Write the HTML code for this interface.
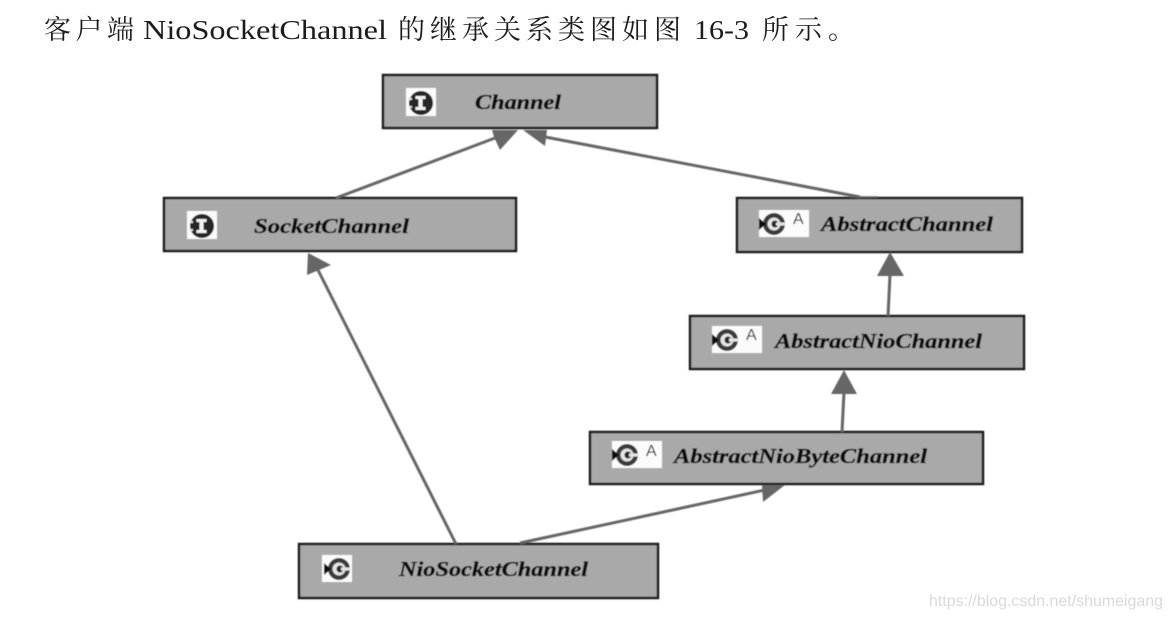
<!DOCTYPE html>
<html><head><meta charset="utf-8"><style>
html,body{margin:0;padding:0;background:#fff}
body{width:1170px;height:618px;overflow:hidden;position:relative}
svg{position:absolute;left:0;top:0}
</style></head><body>
<svg width="1170" height="618" viewBox="0 0 1170 618" xmlns="http://www.w3.org/2000/svg">
<defs>
<filter id="b" x="-5%" y="-5%" width="110%" height="110%"><feGaussianBlur stdDeviation="0.6"/></filter>
<filter id="t" x="-5%" y="-20%" width="110%" height="140%"><feGaussianBlur stdDeviation="0.35"/></filter>
<g id="cicon"><circle cx="1" cy="0" r="11" fill="#3a3a3a"/><circle cx="1" cy="0" r="6.5" fill="#e4e4e4"/><circle cx="2" cy="0" r="3.5" fill="#2a2a2a"/><rect x="3" y="-1.5" width="9.5" height="3" fill="#e4e4e4"/><path d="M-14 -6L-7 0L-14 6Z" fill="#111"/></g>
<g id="iicon"><circle cx="1" cy="0" r="12" fill="#262626"/><rect x="-4.5" y="-7" width="10" height="3" fill="#f2f2f2"/><rect x="-4.5" y="4" width="10" height="3" fill="#f2f2f2"/><rect x="-1.5" y="-7" width="4" height="14" fill="#f2f2f2"/><rect x="-11" y="-5" width="3" height="2" fill="#ddd"/><rect x="-11" y="3" width="3" height="2" fill="#ddd"/></g>
</defs>
<rect width="1170" height="618" fill="#fff"/>
<g filter="url(#t)" font-family="'Liberation Serif','Noto Serif CJK SC',serif" font-size="27" fill="#1c1c1c">
<text x="44" y="39" textLength="90" lengthAdjust="spacing">客户端</text>
<text x="143" y="39" textLength="244" lengthAdjust="spacingAndGlyphs">NioSocketChannel</text>
<text x="398" y="39" textLength="283" lengthAdjust="spacing">的继承关系类图如图</text>
<text x="694" y="39" textLength="55" lengthAdjust="spacingAndGlyphs">16-3</text>
<text x="762" y="39" textLength="93" lengthAdjust="spacing">所示。</text>
</g>
<g filter="url(#b)">
<g fill="#a9a9a9" stroke="#1f1f1f" stroke-width="2.5">
<rect x="383" y="75" width="274" height="53"/>
<rect x="164" y="198" width="352" height="53"/>
<rect x="737" y="198" width="285" height="54"/>
<rect x="690" y="316" width="334" height="53"/>
<rect x="590" y="432" width="393" height="52"/>
<rect x="299" y="544" width="359" height="54"/>
</g>
<g stroke="#666" stroke-width="3" fill="none">
<line x1="336" y1="198" x2="495" y2="138"/>
<line x1="860" y1="197" x2="540" y2="136"/>
<line x1="878" y1="197" x2="850" y2="197" stroke-width="1.5"/>
<line x1="888" y1="316" x2="890" y2="275"/>
<line x1="842" y1="432" x2="844" y2="392"/>
<line x1="456" y1="544" x2="318" y2="270"/>
<line x1="520" y1="543" x2="765" y2="490"/>
</g>
<g fill="#666">
<path d="M492 130L518 130L500 150L494 137Z"/>
<path d="M523 130L547 130L545 146Z"/>
<path d="M890 252L904 276L877 276Z"/>
<path d="M844 370L857 394L831 394Z"/>
<path d="M308 253L331 265L307 275Z"/>
<path d="M762 485L785 485L763 502Z"/>
</g>
<g fill="#fbfbfb">
<rect x="406" y="88" width="30" height="28"/>
<rect x="187" y="211" width="30" height="28"/>
<rect x="759" y="210" width="50" height="27"/>
<rect x="712" y="326" width="50" height="27"/>
<rect x="612" y="441" width="50" height="27"/>
<rect x="322" y="555" width="30" height="27"/>
</g>
<use href="#iicon" x="420" y="103"/>
<use href="#iicon" x="201" y="226"/>
<use href="#cicon" x="773" y="224"/>
<use href="#cicon" x="726" y="340"/>
<use href="#cicon" x="626" y="455"/>
<use href="#cicon" x="338" y="569"/>
<g font-family="'Liberation Sans',sans-serif" font-size="16" fill="#222">
<text x="793" y="224">A</text><text x="746" y="340">A</text><text x="646" y="456">A</text>
</g>
<g font-family="'Liberation Serif',serif" font-size="21" font-weight="bold" font-style="italic" fill="#0a0a0a" stroke="#0a0a0a" stroke-width="0.35">
<text x="475" y="109" textLength="86" lengthAdjust="spacingAndGlyphs">Channel</text>
<text x="254" y="233" textLength="155" lengthAdjust="spacingAndGlyphs">SocketChannel</text>
<text x="821" y="231" textLength="172" lengthAdjust="spacingAndGlyphs">AbstractChannel</text>
<text x="775" y="348" textLength="207" lengthAdjust="spacingAndGlyphs">AbstractNioChannel</text>
<text x="674" y="463" textLength="253" lengthAdjust="spacingAndGlyphs">AbstractNioByteChannel</text>
<text x="399" y="576" textLength="189" lengthAdjust="spacingAndGlyphs">NioSocketChannel</text>
</g>
</g>
<text x="929" y="606" font-family="'Liberation Sans',sans-serif" font-size="16" fill="#d9d9d9" textLength="234" lengthAdjust="spacingAndGlyphs">https://blog.csdn.net/shumeigang</text>
</svg>
</body></html>
